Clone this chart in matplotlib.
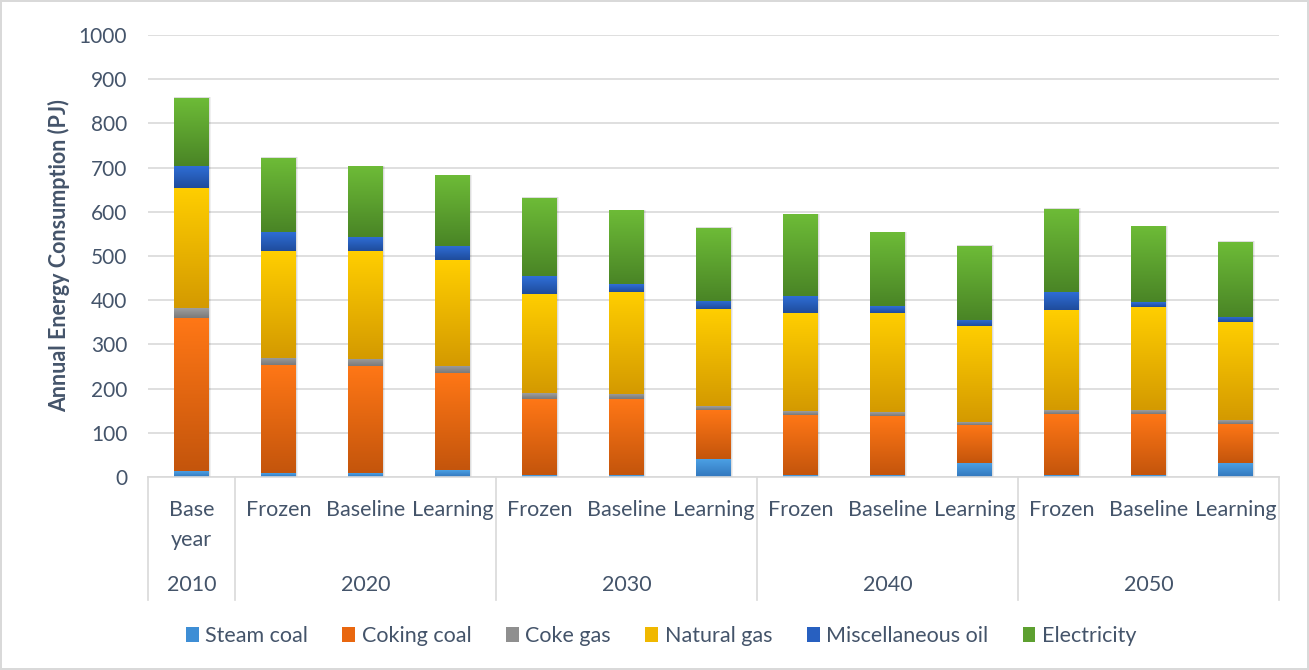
import matplotlib
matplotlib.use('Agg')
import matplotlib.pyplot as plt
import numpy as np
from matplotlib.patches import Patch, Rectangle
from matplotlib.colors import to_rgb
import matplotlib.transforms as mtransforms

plt.rcParams['font.family'] = ['Lato', 'DejaVu Sans']

# ---- data ----
scenarios = ['Base\nyear', 'Frozen', 'Baseline', 'Learning',
             'Frozen', 'Baseline', 'Learning',
             'Frozen', 'Baseline', 'Learning',
             'Frozen', 'Baseline', 'Learning']
years = ['2010', '2020', '2030', '2040', '2050']
group_sizes = [1, 3, 3, 3, 3]

series_names = ['Steam coal', 'Coking coal', 'Coke gas', 'Natural gas',
                'Miscellaneous oil', 'Electricity']
steam_coal = [13, 8, 8, 15, 4, 4, 40, 4, 4, 31, 4, 4, 31]
coking_coal = [347, 245, 243, 220, 173, 172, 112, 136, 133, 87, 139, 139, 90]
coke_gas = [22, 17, 17, 16, 12, 12, 9, 9, 9, 6, 9, 9, 7]
natural_gas = [272, 241, 243, 239, 226, 231, 218, 221, 225, 218, 226, 233, 223]
misc_oil = [50, 44, 32, 33, 40, 18, 20, 39, 15, 14, 41, 11, 12]
electricity = [153, 167, 159, 159, 176, 166, 164, 184, 167, 167, 187, 170, 169]

yticks = list(range(0, 1001, 100))

# ---- style ----
top_colors = ['#4BA0E4', '#FF7716', '#9E9E9E', '#FFCE00', '#2F6FD8', '#6DBB37']
bot_colors = ['#3377BD', '#C4550C', '#7A7A7A', '#D49A00', '#1F4C9C', '#4A8526']
legend_colors = ['#3E8ED5', '#E9670F', '#8F8F8F', '#F0B800', '#2860C0', '#5DA030']
text_color = '#44546A'
grid_color = '#D9D9D9'

fig = plt.figure(figsize=(13.09, 6.70), dpi=100)
fig.patch.set_edgecolor('#D9D9D9')
fig.patch.set_linewidth(1.5)
ax = fig.add_axes([148 / 1309, 1 - 477 / 670, 1131 / 1309, 442 / 670])

x = np.arange(len(scenarios))
width = 0.4
data = [steam_coal, coking_coal, coke_gas, natural_gas, misc_oil, electricity]
totals = np.sum(np.array(data), axis=0)

# soft shadow
for xi, t in zip(x, totals):
    for k, a in [(0.012, 0.06), (0.006, 0.08)]:
        ax.add_patch(Rectangle((xi - width / 2 - k + 0.008, -2), width + 2 * k, t + 2 + 2,
                               facecolor='black', alpha=a, edgecolor='none', zorder=1.5))

bottom = np.zeros(len(scenarios))
for vals, tc, bc in zip(data, top_colors, bot_colors):
    vals = np.array(vals, dtype=float)
    bars = ax.bar(x, vals, width, bottom=bottom, color='none', edgecolor='none', zorder=2)
    grad = np.linspace(0, 1, 64)[:, None, None]
    img = (1 - grad) * np.array(to_rgb(bc)) + grad * np.array(to_rgb(tc))
    for b in bars:
        x0, y0 = b.get_x(), b.get_y()
        w, h = b.get_width(), b.get_height()
        if h <= 0:
            continue
        ax.imshow(img, extent=[x0, x0 + w, y0, y0 + h], origin='lower',
                  aspect='auto', interpolation='bilinear', zorder=2)
    bottom += vals

ax.set_xlim(-0.5, len(scenarios) - 0.5)
ax.set_ylim(0, 1000)
ax.set_yticks(yticks)
ax.set_yticklabels([str(t) for t in yticks], fontsize=15, color=text_color)
ax.tick_params(axis='y', length=0, pad=15)
ax.set_xticks([])
ax.yaxis.grid(True, color=grid_color, linewidth=1.2)
ax.set_axisbelow(True)
for s in ['top', 'right', 'left']:
    ax.spines[s].set_visible(False)
ax.spines['bottom'].set_color(grid_color)
ax.spines['bottom'].set_linewidth(1.2)
ax.set_ylabel('Annual Energy Consumption (PJ)', fontsize=15.5, fontweight='bold',
              color=text_color, labelpad=6)

trans = mtransforms.blended_transform_factory(ax.transData, ax.transAxes)
for xi, lab in zip(x, scenarios):
    ax.text(xi, -0.051, lab, transform=trans, ha='center', va='top',
            fontsize=15.5, color=text_color, linespacing=1.65)

# group separators and year labels
edges = [-0.5]
for g in group_sizes:
    edges.append(edges[-1] + g)
for e in edges:
    ax.plot([e, e], [0, -0.278], transform=trans, color=grid_color, lw=1.2, clip_on=False)
for i, yr in enumerate(years):
    c = (edges[i] + edges[i + 1]) / 2
    ax.text(c, -0.245, yr, transform=trans, ha='center', va='center',
            fontsize=15.5, color=text_color)

handles = [Patch(facecolor=c, edgecolor='none') for c in legend_colors]
fig.legend(handles, series_names, loc='center', bbox_to_anchor=(0.505, 1 - 636 / 670),
           ncol=6, frameon=False, fontsize=15.5, handlelength=0.6, handleheight=0.7,
           handletextpad=0.3, columnspacing=1.6, labelcolor=text_color)

fig.savefig('out.png', dpi=100)
